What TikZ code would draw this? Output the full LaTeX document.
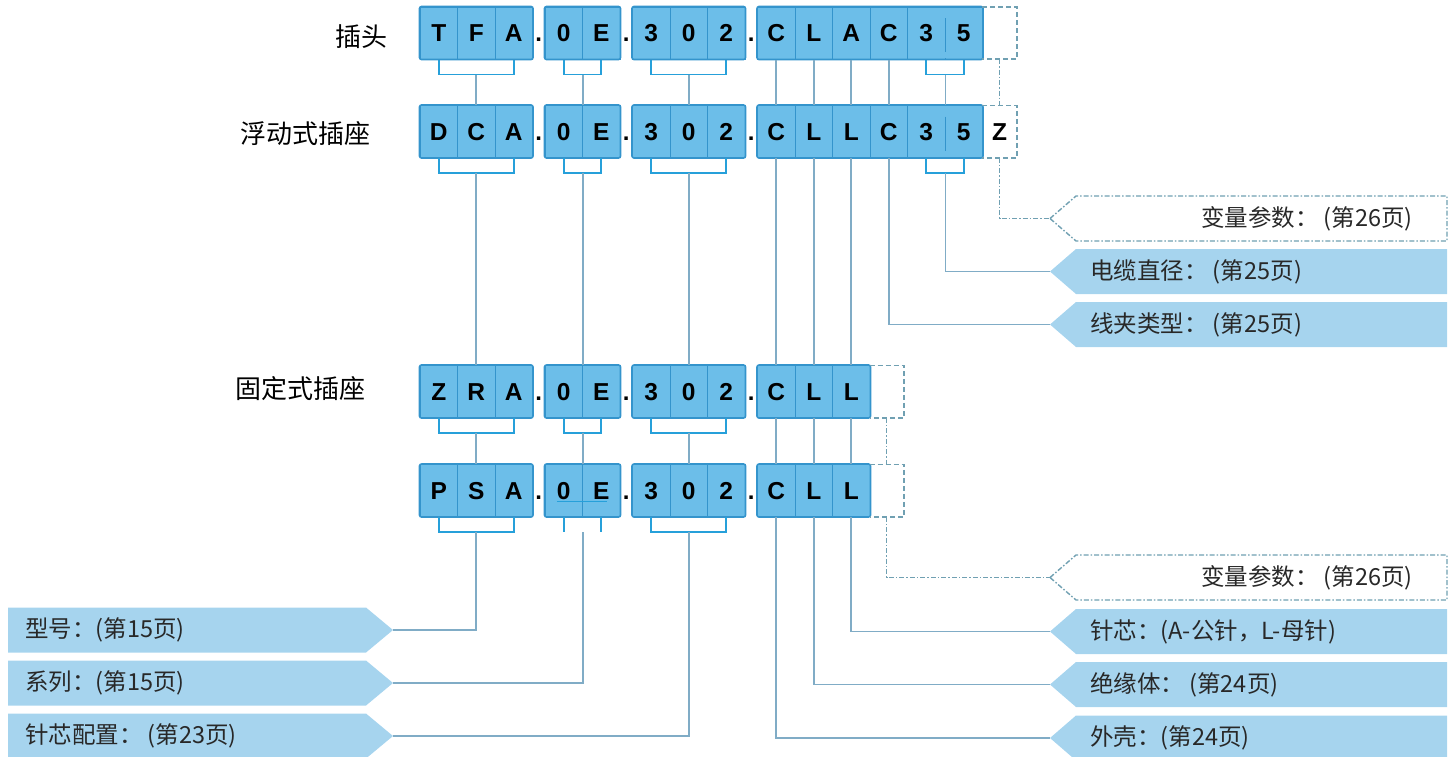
\documentclass[tikz,border=0pt]{standalone}
\usepackage{fontspec}
\setmainfont{Liberation Sans}
\newfontfamily\cjk{Noto Sans CJK SC}
\usetikzlibrary{calc}
\definecolor{cellfill}{RGB}{108,190,233}
\definecolor{celledge}{RGB}{52,148,204}
\definecolor{tagfill}{RGB}{166,212,238}
\definecolor{brkblue}{RGB}{38,160,218}
\definecolor{connblue}{RGB}{128,172,198}
\definecolor{dashteal}{RGB}{112,160,178}
\definecolor{tagtextc}{RGB}{40,40,40}
\tikzset{
  codecell/.style={fill=cellfill, draw=celledge, line width=1pt, inner sep=0pt,
    minimum width=37.5pt, minimum height=52pt, text height=17.2pt, text depth=0pt,
    font=\fontsize{24.5}{24.5}\selectfont\bfseries},
  zbox/.style={inner sep=0pt, minimum width=34pt, minimum height=52pt,
    text height=17.2pt, text depth=0pt, font=\fontsize{24.5}{24.5}\selectfont\bfseries},
  dotmark/.style={anchor=base, inner sep=0pt, font=\fontsize{24}{24}\selectfont\bfseries},
  grpedge/.style={draw=celledge, line width=1.6pt, rounded corners=2pt},
  celldiv/.style={draw=celledge, line width=1pt},
  brkln/.style={brkblue, line width=1.6pt},
  connln/.style={connblue, line width=1.6pt},
  dashbox/.style={dashteal, line width=1.6pt, dash pattern=on 5pt off 3pt},
  dashln/.style={dashteal, line width=1.4pt, dash pattern=on 5pt off 2pt on 1.5pt off 2pt},
  dashtag/.style={draw=dashteal, fill=white, line width=1.4pt,
    dash pattern=on 5pt off 2pt on 1.5pt off 2pt},
  filltag/.style={fill=tagfill},
  rowlbl/.style={inner sep=0pt, font=\cjk\fontsize{26}{26}\selectfont},
  tagtext/.style={inner sep=0pt, text=tagtextc, font=\cjk\fontsize{23.5}{23.5}\selectfont},
}
% one group of letter cells
\newcommand{\codegroup}[4]{%
  \foreach \ch [count=\i] in {#4} {
    \node[codecell] (#1\i) at ({#2+(\i-0.5)*37.5},#3) {\ch};
    \xdef\grplast{\i}
  }
  \draw[grpedge] (#11.north west) rectangle (#1\grplast.south east);
}
\newcommand{\codebrk}[2]{\draw[brkln] (#1.south) -- ++(0,15) -| (#2.south);}
% label tags: right side (tip left) and left side (tip right)
\newcommand{\tagR}[6]{%
  \path[#3] (1050,#2) -- (1076,#2-22.5) -- (1447,#2-22.5) -- (1447,#2+22.5)
    -- (1076,#2+22.5) -- cycle;
  \coordinate (#1-tip) at (1050,#2);
  \node[tagtext, anchor=#4] (#1) at (#5,#2) {#6};
}
\newcommand{\tagL}[3]{%
  \fill[tagfill] (8,#2-22.5) -- (366,#2-22.5) -- (393,#2) -- (366,#2+22.5)
    -- (8,#2+22.5) -- cycle;
  \coordinate (#1-tip) at (393,#2);
  \node[tagtext, anchor=west] (#1) at (25,#2) {#3};
}

\begin{document}
\begin{tikzpicture}[x=1pt, y=-1pt]
  \useasboundingbox (0,0) rectangle (1450,756);

  % row labels
  \node[rowlbl] (lplug) at (361.7,36.7) {插头};
  \node[rowlbl] (lfloat) at (305.3,133.3) {浮动式插座};
  \node[rowlbl] (lfixed) at (300,388.3) {固定式插座};

  % row 1
  \codegroup{r1a}{420}{33}{T,F,A}
  \codegroup{r1b}{545}{33}{0,E}
  \codegroup{r1c}{632.5}{33}{3,0,2}
  \codegroup{r1d}{757.5}{33}{C,L,A,C,3,5}
  \fill[cellfill] ($(r1d5.north east)+(-0.9,1.2)$) rectangle ($(r1d5.south east)+(0.9,-1.2)$);
  \draw[celldiv] ($(r1d5.east)+(0,-15)$) -- ($(r1d5.east)+(0,19)$);
  \node[zbox] (r1z) at (999.5,33) {};
  % row 2
  \codegroup{r2a}{420}{131.5}{D,C,A}
  \codegroup{r2b}{545}{131.5}{0,E}
  \codegroup{r2c}{632.5}{131.5}{3,0,2}
  \codegroup{r2d}{757.5}{131.5}{C,L,L,C,3,5}
  \fill[cellfill] ($(r2d5.north east)+(-0.9,1.2)$) rectangle ($(r2d5.south east)+(0.9,-1.2)$);
  \draw[celldiv] ($(r2d5.east)+(0,-15)$) -- ($(r2d5.east)+(0,19)$);
  \node[zbox] (r2z) at (999.5,131.5) {Z};
  % row 3
  \codegroup{r3a}{420}{391.5}{Z,R,A}
  \codegroup{r3b}{545}{391.5}{0,E}
  \codegroup{r3c}{632.5}{391.5}{3,0,2}
  \codegroup{r3d}{757.5}{391.5}{C,L,L}
  \node[zbox] (r3z) at (886.75,391.5) {};
  % row 4
  \codegroup{r4a}{420}{490.5}{P,S,A}
  \codegroup{r4b}{545}{490.5}{0,E}
  \codegroup{r4c}{632.5}{490.5}{3,0,2}
  \codegroup{r4d}{757.5}{490.5}{C,L,L}
  \node[zbox] (r4z) at (886.75,490.5) {};

  % separating dots
  \foreach \r/\y in {1/33,2/131.5,3/391.5,4/490.5} {
    \foreach \x [count=\k] in {538.75,626.25,751.25}
      \node[dotmark] (r\r p\k) at (\x,\y+8.6) {.};
  }
  % open dashed boxes
  \foreach \z in {r1z,r2z,r3z,r4z}
    \draw[dashbox] (\z.north west) -- (\z.north east) -- (\z.south east) -- (\z.south west);

  % tags
  \tagR{tvar1}{218.5}{dashtag}{east}{1413}{变量参数： (第26页)}
  \tagR{tcable}{271.5}{filltag}{west}{1090}{电缆直径： (第25页)}
  \tagR{tclamp}{324.5}{filltag}{west}{1090}{线夹类型： (第25页)}
  \tagR{tvar2}{577.5}{dashtag}{east}{1413}{变量参数： (第26页)}
  \tagR{tpin}{631.5}{filltag}{west}{1090}{针芯：(A-公针，L-母针)}
  \tagR{tins}{684.5}{filltag}{west}{1090}{绝缘体： (第24页)}
  \tagR{tshell}{738}{filltag}{west}{1090}{外壳：(第24页)}
  \tagL{tmodel}{630}{型号：(第15页)}
  \tagL{tseries}{683}{系列：(第15页)}
  \tagL{tlayout}{736}{针芯配置： (第23页)}

  % row 1 to row 2
  \codebrk{r1a1}{r1a3} \draw[connln] ($(r1a2.south)+(0,15)$) -- (r2a2.north);
  \codebrk{r1b1}{r1b2} \draw[connln] ($(r1b1.south east)+(0,15)$) -- (r2b1.north east);
  \codebrk{r1c1}{r1c3} \draw[connln] ($(r1c2.south)+(0,15)$) -- (r2c2.north);
  \foreach \i in {1,...,4} \draw[connln] (r1d\i.south) -- (r2d\i.north);
  \codebrk{r1d5}{r1d6} \draw[connln] ($(r1d5.south east)+(0,15)$) -- (r2d5.north east);
  \draw[dashln] (r1z.south) -- (r2z.north);
  % row 2 down
  \codebrk{r2a1}{r2a3} \draw[connln] ($(r2a2.south)+(0,15)$) -- (r3a2.north);
  \codebrk{r2b1}{r2b2} \draw[connln] ($(r2b1.south east)+(0,15)$) -- (r3b1.north east);
  \codebrk{r2c1}{r2c3} \draw[connln] ($(r2c2.south)+(0,15)$) -- (r3c2.north);
  \foreach \i in {1,2,3} \draw[connln] (r2d\i.south) -- (r3d\i.north);
  \draw[connln] (r2d4.south) |- (tclamp-tip);
  \codebrk{r2d5}{r2d6} \draw[connln] ($(r2d5.south east)+(0,15)$) |- (tcable-tip);
  \draw[dashln] (r2z.south) |- (tvar1-tip);
  % row 3 to row 4
  \codebrk{r3a1}{r3a3} \draw[connln] ($(r3a2.south)+(0,15)$) -- (r4a2.north);
  \codebrk{r3b1}{r3b2} \draw[connln] ($(r3b1.south east)+(0,15)$) -- (r4b1.north east);
  \codebrk{r3c1}{r3c3} \draw[connln] ($(r3c2.south)+(0,15)$) -- (r4c2.north);
  \foreach \i in {1,2,3} \draw[connln] (r3d\i.south) -- (r4d\i.north);
  \draw[dashln] (r3z.south) -- (r4z.north);
  % row 4 to the tags
  \codebrk{r4a1}{r4a3} \draw[connln] ($(r4a2.south)+(0,15)$) |- (tmodel-tip);
  \draw[brkln] ($(r4b1.center)+(-7,11)$) -- ($(r4b2.center)+(5.5,11)$);
  \draw[brkln] (r4b1.south) -- ++(0,15);
  \draw[brkln] (r4b2.south) -- ++(0,15);
  \draw[connln] ($(r4b1.south east)+(0,15)$) |- (tseries-tip);
  \codebrk{r4c1}{r4c3} \draw[connln] ($(r4c2.south)+(0,15)$) |- (tlayout-tip);
  \draw[connln] (r4d1.south) |- (tshell-tip);
  \draw[connln] (r4d2.south) |- (tins-tip);
  \draw[connln] (r4d3.south) |- (tpin-tip);
  \draw[dashln] (r4z.south) |- (tvar2-tip);
\end{tikzpicture}
\end{document}
